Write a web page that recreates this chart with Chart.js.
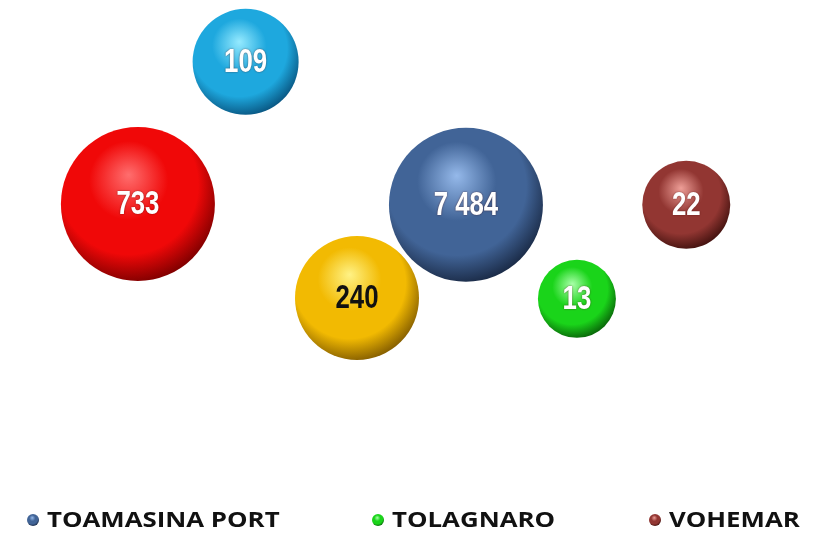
<!DOCTYPE html>
<html><head><meta charset="utf-8">
<script src="https://cdn.jsdelivr.net/npm/chart.js@4.4.0/dist/chart.umd.min.js"></script>
<style>html,body{margin:0;padding:0;background:#fff}#wrap{width:816px;height:536px;position:relative}</style>
</head><body><div id="wrap"><canvas id="c"></canvas></div>
<script>
// ---- data ----
const ports = ['TOAMASINA PORT', 'TOLAGNARO', 'VOHEMAR', 'MAHAJANGA', 'TOLIARA', 'ANTSIRANANA'];
const volumes = [7484, 13, 22, 733, 240, 109];
const posX = [57.1, 70.7, 84.1, 16.9, 43.75, 30.1];
const posY = [51.0, 28.5, 51.0, 51.2, 28.7, 85.2];
const bubbleSize = [77, 39, 44, 77, 62, 53];
const legendPorts = ['TOAMASINA PORT', 'TOLAGNARO', 'VOHEMAR'];

// ---- styles ----
const baseColors = ['#416497', '#1ad41a', '#923632', '#f00808', '#f2ba02', '#1ea8de'];
const lightColors = ['#95b9ea', '#a8ffa8', '#ee9e97', '#ff6e6e', '#fff285', '#95eaff'];
const darkColors = ['#1c2d4a', '#0a6a0a', '#471411', '#840000', '#8a6200', '#0a5a86'];
const labelColors = ['#ffffff', '#ffffff', '#ffffff', '#ffffff', '#111111', '#ffffff'];
const legendSlots = [27, 372, 649];

function sphereGradient(c, cx, cy, r, i) {
  const g = c.createRadialGradient(cx - 0.12 * r, cy - 0.38 * r, 0, cx - 0.12 * r, cy - 0.2 * r, r * 1.22);
  g.addColorStop(0, lightColors[i]);
  g.addColorStop(0.42, baseColors[i]);
  g.addColorStop(0.74, baseColors[i]);
  g.addColorStop(1, darkColors[i]);
  return g;
}

function sphereFill(ctx) {
  const i = ctx.datasetIndex;
  if (ctx.type !== 'data') return baseColors[i];
  const chart = ctx.chart;
  const xs = chart.scales.x, ys = chart.scales.y;
  if (!xs || !ys || !chart.chartArea) return baseColors[i];
  const cx = xs.getPixelForValue(ctx.raw.x);
  const cy = ys.getPixelForValue(ctx.raw.y);
  return sphereGradient(chart.ctx, cx, cy, ctx.raw.r, i);
}

const datasets = ports.map((p, i) => ({
  label: p,
  data: [{ x: posX[i], y: posY[i], r: bubbleSize[i] }],
  backgroundColor: sphereFill,
  hoverBackgroundColor: sphereFill,
  borderWidth: 0,
  hoverBorderWidth: 0,
  clip: false
}));

const labelPlugin = {
  id: 'bubbleLabels',
  afterDatasetsDraw(chart) {
    const c = chart.ctx;
    chart.data.datasets.forEach((ds, i) => {
      const el = chart.getDatasetMeta(i).data[0];
      if (!el) return;
      const txt = volumes[i].toLocaleString('fr-FR').replace(/\u202f|\u00a0/g, ' ');
      c.save();
      c.translate(el.x, el.y);
      c.scale(0.86, 1.12);
      c.font = 'bold 30px "Liberation Sans", Arial, sans-serif';
      c.textAlign = 'center';
      c.textBaseline = 'middle';
      if (labelColors[i] === '#ffffff') {
        c.shadowColor = 'rgba(60,0,0,0.6)';
        c.shadowBlur = 2;
      }
      c.fillStyle = labelColors[i];
      c.fillText(txt, 0, 1);
      c.restore();
    });
  }
};

const legendPlugin = {
  id: 'bottomLegend',
  afterDraw(chart) {
    const c = chart.ctx;
    const y = chart.height - 16;
    legendPorts.forEach((name, k) => {
      const i = ports.indexOf(name);
      const x0 = legendSlots[k];
      const cx = x0 + 6;
      c.save();
      c.beginPath();
      c.arc(cx, y, 6, 0, Math.PI * 2);
      c.fillStyle = sphereGradient(c, cx, y, 6, i);
      c.fill();
      c.restore();
      c.save();
      c.translate(x0 + 20, y);
      c.scale(1.23, 1);
      c.font = 'bold 21px "Open Sans", Lato, sans-serif';
      c.textAlign = 'left';
      c.textBaseline = 'middle';
      c.fillStyle = '#111111';
      c.fillText(name, 0, 1);
      c.restore();
    });
  }
};

new Chart(document.getElementById('c'), {
  type: 'bubble',
  data: { datasets },
  options: {
    responsive: true,
    maintainAspectRatio: false,
    animation: false,
    events: [],
    layout: { autoPadding: false, padding: { left: 0, right: 0, top: 0, bottom: 118 } },
    scales: {
      x: { type: 'linear', min: 0, max: 100, display: false },
      y: { type: 'linear', min: 0, max: 100, display: false }
    },
    plugins: {
      tooltip: { enabled: false },
      legend: { display: false }
    }
  },
  plugins: [labelPlugin, legendPlugin]
});
</script>
</body></html>
